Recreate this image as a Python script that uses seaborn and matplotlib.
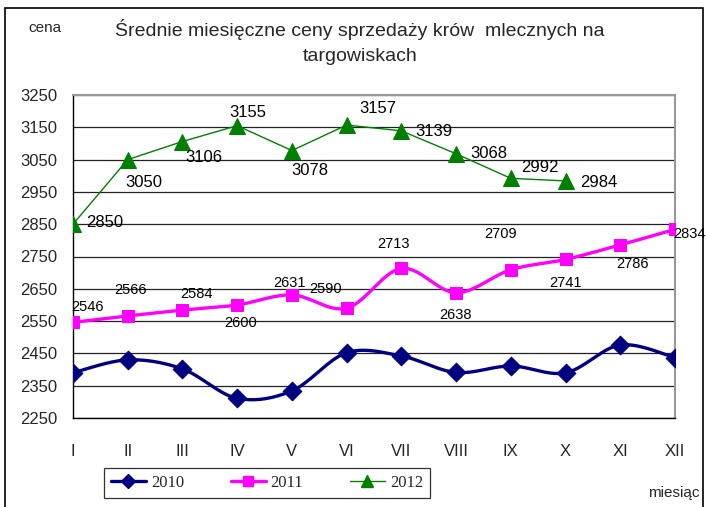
import numpy as np
import pandas as pd
import matplotlib
matplotlib.use("Agg")
import matplotlib.pyplot as plt
import seaborn as sns
from matplotlib.patches import Rectangle
from matplotlib.lines import Line2D

# Data
months = ["I", "II", "III", "IV", "V", "VI", "VII", "VIII", "IX", "X", "XI", "XII"]
price_2010 = [2390, 2430, 2402, 2311, 2334, 2452, 2442, 2391, 2411, 2390, 2476, 2437]
price_2011 = [2546, 2566, 2584, 2600, 2631, 2590, 2713, 2638, 2709, 2741, 2786, 2834]
price_2012 = [2850, 3050, 3106, 3155, 3078, 3157, 3139, 3068, 2992, 2984]

# label offsets (pixels) for the data labels
off_2011 = [(15, 15), (3, 26), (14, 16), (3, -18), (-2, 12), (-21, 19), (-8, 24), (-1, -22), (-10, 36), (0, -24), (12, -19), (14, -5)]
off_2012 = [(32, 2), (16, -23), (21, -16), (11, 13), (18, -20), (31, 17), (33, -1), (33, 0), (29, 11), (33, -2)]

sns.set_style("white")
plt.rcParams["font.family"] = ["Liberation Sans", "DejaVu Sans"]

fig = plt.figure(figsize=(7.07, 5.07), dpi=100)
ax = fig.add_axes([73 / 707, 1 - 418 / 507, 602 / 707, 323 / 507])


def smooth(xs, ys, n=20):
    # Catmull-Rom curve through the points, like Excel's smoothed line
    xs = np.asarray(xs, float)
    ys = np.asarray(ys, float)
    px = np.concatenate([[xs[0]], xs, [xs[-1]]])
    py = np.concatenate([[ys[0]], ys, [ys[-1]]])
    outx, outy = [], []
    t = np.linspace(0, 1, n)
    for i in range(1, len(px) - 2):
        for p, out in ((px, outx), (py, outy)):
            p0, p1, p2, p3 = p[i - 1], p[i], p[i + 1], p[i + 2]
            c1 = p1 + (p2 - p0) / 6
            c2 = p2 - (p3 - p1) / 6
            out.extend((1 - t) ** 3 * p1 + 3 * (1 - t) ** 2 * t * c1 + 3 * (1 - t) * t ** 2 * c2 + t ** 3 * p2)
    return outx, outy


x12 = np.arange(len(months))
df = pd.DataFrame({"x": np.concatenate([x12, x12, x12[:len(price_2012)]]),
                   "cena": price_2010 + price_2011 + price_2012,
                   "rok": ["2010"] * 12 + ["2011"] * 12 + ["2012"] * len(price_2012)})

# gridlines
for v in range(2250, 3251, 100):
    ax.axhline(v, color="#222222", lw=0.9, zorder=0)

# 2010 smoothed
sx, sy = smooth(x12, price_2010)
ax.plot(sx, sy, color="#000080", lw=2.4, zorder=2)
sns.scatterplot(data=df[df.rok == "2010"], x="x", y="cena", marker="D", s=90, color="#000080",
                edgecolor="#000080", ax=ax, zorder=3, legend=False)

# 2011 smoothed
sx, sy = smooth(x12, price_2011)
ax.plot(sx, sy, color="#FF00FF", lw=2.4, zorder=2)
sns.scatterplot(data=df[df.rok == "2011"], x="x", y="cena", marker="s", s=80, color="#FF00FF",
                edgecolor="#FF00FF", ax=ax, zorder=3, legend=False)

# 2012 straight
sns.lineplot(data=df[df.rok == "2012"], x="x", y="cena", color="#008000", lw=1.0, marker="^",
             markersize=11, markeredgecolor="#008000", ax=ax, zorder=3, legend=False)

for xi, v, (dx, dy) in zip(x12, price_2011, off_2011):
    ax.annotate(str(v), (xi, v), xytext=(dx, dy), textcoords="offset pixels",
                ha="center", va="center", fontsize=10.5, color="black", zorder=5)
for xi, v, (dx, dy) in zip(x12, price_2012, off_2012):
    ax.annotate(str(v), (xi, v), xytext=(dx, dy), textcoords="offset pixels",
                ha="center", va="center", fontsize=12, color="black", zorder=5)

ax.set_xlim(0, 11)
ax.set_ylim(2250, 3250)
ax.set_yticks(range(2250, 3251, 100))
ax.set_xticks(x12)
ax.set_xticklabels(months)
ax.set_xlabel("")
ax.set_ylabel("")
ax.tick_params(axis="both", direction="out", length=5, width=1, color="black", labelsize=12, pad=6)
ax.tick_params(axis="x", pad=14)
for side in ["left", "bottom"]:
    ax.spines[side].set_color("black")
    ax.spines[side].set_linewidth(1)
for side in ["top", "right"]:
    ax.spines[side].set_color("#999999")
    ax.spines[side].set_linewidth(1.5)

# legend
handles = [Line2D([], [], color="#000080", lw=2.4, marker="D", ms=7),
           Line2D([], [], color="#FF00FF", lw=2.4, marker="s", ms=7),
           Line2D([], [], color="#008000", lw=1.0, marker="^", ms=9)]
leg = fig.legend(handles, ["2010", "2011", "2012"], loc="center", bbox_to_anchor=(267 / 707, 1 - 483 / 507),
                 ncol=3, frameon=True, fancybox=False, edgecolor="black", handlelength=2.1,
                 handletextpad=0.3, columnspacing=2.8, borderpad=0.4, borderaxespad=0,
                 prop={"family": "Liberation Serif", "size": 12})
leg.get_frame().set_linewidth(0.9)

fig.text(360 / 707, 1 - 42 / 507, "Średnie miesięczne ceny sprzedaży krów  mlecznych na\ntargowiskach",
         ha="center", va="center", fontsize=14, linespacing=1.6)
fig.text(45 / 707, 1 - 28 / 507, "cena", ha="center", va="center", fontsize=11)
fig.text(674 / 707, 1 - 493 / 507, "miesiąc", ha="center", va="center", fontsize=11)

# outer chart frame
fig.patches.append(Rectangle((5 / 707, -0.02), 698 / 707, 1 - 8 / 507 + 0.02, transform=fig.transFigure,
                             fill=False, edgecolor="black", lw=1.2))

fig.savefig("out.png", dpi=100)
